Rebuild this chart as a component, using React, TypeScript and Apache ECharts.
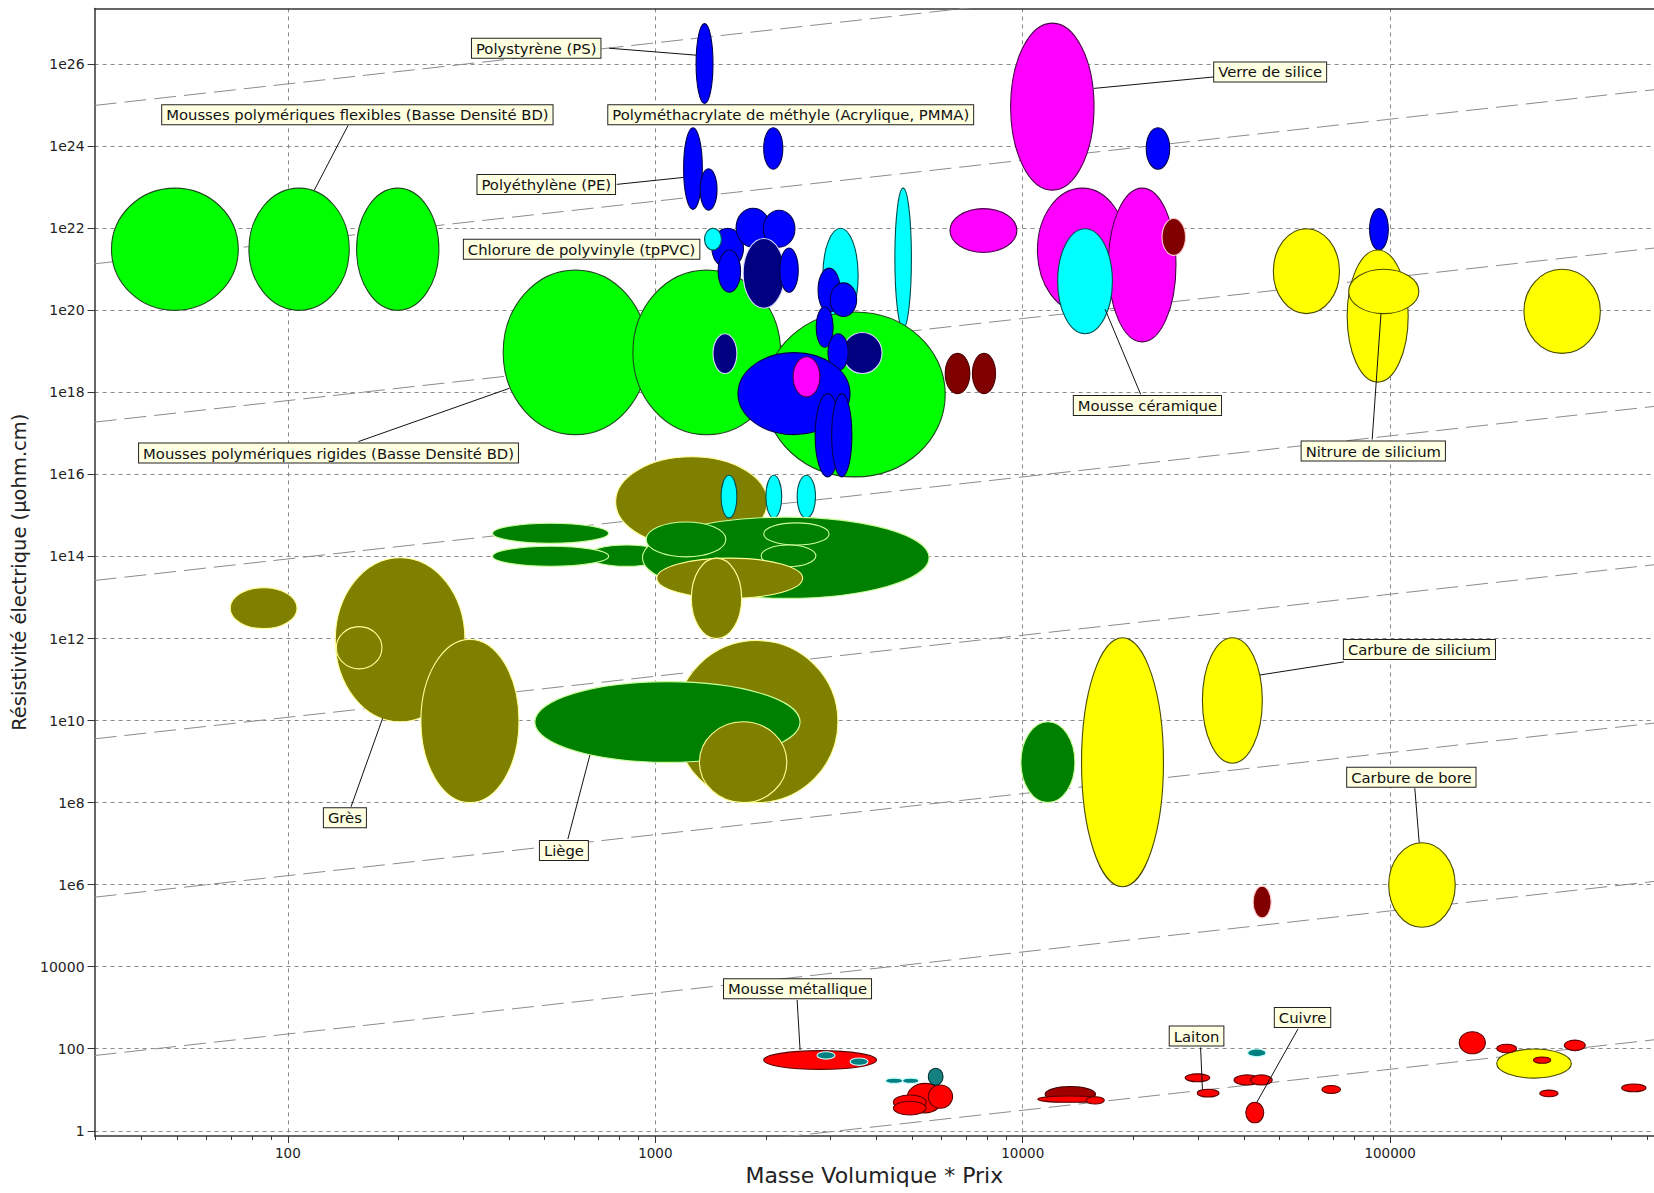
import React, { useEffect, useRef } from "react";
import * as echarts from "echarts";

// All positions are log10 exponents (the chart is a log-log Ashby map).
const X_MIN = 1.474;
const X_MAX = 5.718;
const Y_MIN = -0.127;
const Y_MAX = 27.36;

const xMajorTicks = [2, 3, 4, 5];
const xMinorMultipliers = [2, 3, 4, 5, 6, 7, 8, 9];
const xMinorDecades = [1, 2, 3, 4, 5];
const yTicks = [0, 2, 4, 6, 8, 10, 12, 14, 16, 18, 20, 22, 24, 26];

// Guide lines of slope 1: log10(y) = log10(x) + offset
const guideOffsets = [-3.5, 0.36, 4.22, 8.08, 11.94, 15.8, 19.66, 23.52];

type B = [number, number, number, number, string];
// [logX min, logX max, logY min, logY max, style]
const flexibleFoams: B[] = [
  [1.52, 1.865, 20.0, 22.98, "lime"],
  [1.894, 2.167, 20.0, 22.98, "lime"],
  [2.187, 2.411, 20.0, 22.98, "lime"],
];

const polymers: B[] = [
  [2.586, 2.979, 16.97, 20.98, "lime"],
  [2.939, 3.341, 16.97, 20.98, "lime"],
  [3.157, 3.222, 18.46, 19.43, "navy"],
  [3.652, 3.697, 19.56, 22.98, "cyan"],
  [3.456, 3.552, 19.69, 22.0, "cyan"],
  [3.298, 3.789, 15.94, 19.96, "lime"],
  [3.111, 3.157, 25.04, 26.99, "blue"],
  [3.295, 3.347, 23.44, 24.45, "blue"],
  [3.077, 3.128, 22.46, 24.45, "blue"],
  [3.122, 3.168, 22.44, 23.45, "blue"],
  [3.154, 3.24, 21.03, 22.0, "blue"],
  [3.134, 3.18, 21.47, 22.0, "cyan"],
  [3.171, 3.232, 20.44, 21.47, "blue"],
  [3.22, 3.312, 21.54, 22.49, "blue"],
  [3.294, 3.38, 21.54, 22.44, "blue"],
  [3.239, 3.352, 20.05, 21.75, "navy"],
  [3.339, 3.389, 20.44, 21.52, "blue"],
  [3.443, 3.503, 19.95, 21.03, "blue"],
  [3.476, 3.548, 19.85, 20.67, "blue"],
  [3.438, 3.484, 19.1, 20.08, "blue"],
  [3.51, 3.617, 18.46, 19.46, "navy"],
  [3.47, 3.525, 18.53, 19.43, "blue"],
  [3.225, 3.53, 16.97, 18.97, "blue"],
  [3.375, 3.448, 17.89, 18.87, "magenta"],
  [3.435, 3.503, 15.94, 17.97, "blue"],
  [3.48, 3.535, 15.94, 17.97, "blue"],
  [3.789, 3.856, 17.97, 18.95, "maroonDark"],
  [3.863, 3.926, 17.97, 18.95, "maroonDark"],
];

const ceramicsUpper: B[] = [
  [3.802, 3.984, 21.41, 22.48, "magenta"],
  [3.967, 4.194, 22.93, 27.0, "magenta"],
  [4.336, 4.4, 23.44, 24.45, "blue"],
  [4.04, 4.284, 19.95, 22.98, "magenta"],
  [4.233, 4.417, 19.23, 22.98, "magenta"],
  [4.379, 4.443, 21.34, 22.24, "maroon"],
  [4.095, 4.244, 19.43, 21.99, "cyan"],
  [4.682, 4.862, 19.92, 21.99, "yellow"],
  [4.944, 4.995, 21.47, 22.48, "blue"],
  [4.883, 5.049, 18.25, 21.47, "yellow"],
  [4.887, 5.078, 19.92, 21.0, "yellow"],
  [5.364, 5.572, 18.95, 21.0, "yellow"],
];

const middleCluster: B[] = [
  [2.892, 3.305, 14.24, 16.43, "olive"],
  [3.179, 3.222, 14.94, 15.98, "cyan"],
  [3.301, 3.344, 14.94, 15.98, "cyan"],
  [3.386, 3.436, 14.94, 15.98, "cyan"],
  [2.814, 3.029, 13.76, 14.28, "green"],
  [2.965, 3.745, 12.98, 14.96, "green"],
  [2.557, 2.873, 14.32, 14.81, "green"],
  [2.557, 2.873, 13.76, 14.25, "green"],
  [2.975, 3.192, 13.99, 14.84, "green"],
  [3.295, 3.473, 14.28, 14.82, "green"],
  [3.288, 3.437, 13.75, 14.28, "green"],
  [3.004, 3.401, 12.98, 13.96, "olive"],
  [3.098, 3.235, 12.0, 13.96, "olive"],
];

const lowerCluster: B[] = [
  [3.055, 3.497, 8.0, 11.95, "olive"],
  [2.672, 3.394, 8.98, 10.95, "green"],
  [3.12, 3.358, 8.0, 9.97, "olive"],
  [3.995, 4.142, 8.0, 9.97, "green"],
  [4.16, 4.383, 5.95, 12.02, "yellow"],
  [4.489, 4.652, 8.96, 12.02, "yellow"],
  [4.627, 4.676, 5.19, 5.96, "maroon"],
  [4.996, 5.177, 4.96, 7.02, "yellow"],
];

const leftStones: B[] = [
  [1.843, 2.025, 12.24, 13.24, "olive"],
  [2.129, 2.482, 9.97, 13.97, "olive"],
  [2.132, 2.256, 11.26, 12.29, "olive"],
  [2.362, 2.629, 8.0, 11.98, "olive"],
];

const metals: B[] = [
  [3.295, 3.602, 1.496, 1.954, "red"],
  [3.44, 3.489, 1.748, 1.928, "teal"],
  [3.53, 3.579, 1.594, 1.774, "teal"],
  [3.627, 3.673, 1.157, 1.285, "teal"],
  [3.673, 3.717, 1.157, 1.285, "teal"],
  [3.685, 3.783, 0.437, 1.157, "red"],
  [3.743, 3.809, 0.55, 1.116, "red"],
  [3.648, 3.737, 0.514, 0.874, "red"],
  [3.648, 3.737, 0.386, 0.72, "red"],
  [3.743, 3.783, 1.116, 1.524, "tealDark"],
  [4.061, 4.198, 0.707, 1.08, "darkred"],
  [4.041, 4.214, 0.694, 0.848, "red"],
  [4.172, 4.222, 0.653, 0.83, "red"],
  [4.442, 4.509, 1.195, 1.388, "red"],
  [4.475, 4.534, 0.823, 1.013, "red"],
  [4.612, 4.662, 1.805, 1.992, "teal"],
  [4.575, 4.646, 1.116, 1.362, "red"],
  [4.62, 4.679, 1.116, 1.362, "red"],
  [4.607, 4.656, 0.195, 0.694, "red"],
  [4.814, 4.865, 0.91, 1.105, "red"],
  [5.188, 5.259, 1.877, 2.416, "red"],
  [5.29, 5.493, 1.285, 1.992, "yellow"],
  [5.29, 5.344, 1.902, 2.108, "red"],
  [5.39, 5.437, 1.645, 1.8, "red"],
  [5.474, 5.531, 1.954, 2.211, "red"],
  [5.407, 5.457, 0.83, 0.992, "red"],
  [5.63, 5.696, 0.951, 1.141, "red"],
];

const labelTexts = [
  "Polystyrène (PS)",
  "Mousses polymériques flexibles (Basse Densité BD)",
  "Polyméthacrylate de méthyle (Acrylique, PMMA)",
  "Polyéthylène (PE)",
  "Chlorure de polyvinyle (tpPVC)",
  "Mousses polymériques rigides (Basse Densité BD)",
  "Verre de silice",
  "Mousse céramique",
  "Nitrure de silicium",
  "Carbure de silicium",
  "Carbure de bore",
  "Grès",
  "Liège",
  "Mousse métallique",
  "Laiton",
  "Cuivre",
];
// box left edge (logX), box vertical centre (logY)
const labelAnchors: [number, number][] = [
  [2.501, 26.39],
  [1.658, 24.77],
  [2.872, 24.77],
  [2.516, 23.07],
  [2.479, 21.49],
  [1.595, 16.52],
  [4.521, 25.81],
  [4.139, 17.68],
  [4.759, 16.57],
  [4.874, 11.73],
  [4.883, 8.62],
  [2.098, 7.63],
  [2.686, 6.83],
  [3.187, 3.46],
  [4.4, 2.31],
  [4.686, 2.76],
];
// leader line [fromX, fromY, toX, toY] or null
const leaders: ([number, number, number, number] | null)[] = [
  [2.874, 26.39, 3.111, 26.22],
  [2.164, 24.51, 2.072, 22.93],
  null,
  [2.895, 23.07, 3.077, 23.24],
  null,
  [2.192, 16.8, 2.603, 18.1],
  [4.521, 25.69, 4.194, 25.41],
  [4.321, 17.95, 4.224, 20.03],
  [4.951, 16.85, 4.975, 19.92],
  [4.874, 11.43, 4.645, 11.11],
  [5.067, 8.35, 5.079, 7.02],
  [2.172, 7.9, 2.258, 10.06],
  [2.762, 7.11, 2.822, 9.16],
  [3.386, 3.19, 3.394, 1.97],
  [4.484, 2.03, 4.489, 1.013],
  [4.749, 2.48, 4.637, 0.694],
];

const STYLES: Record<string, { fill: string; stroke: string }> = {
  lime: { fill: "#00ff00", stroke: "#1c4a1c" },
  blue: { fill: "#0000ff", stroke: "#000050" },
  navy: { fill: "#000080", stroke: "#dcdcff" },
  cyan: { fill: "#00ffff", stroke: "#004d4d" },
  magenta: { fill: "#ff00ff", stroke: "#4a004a" },
  maroon: { fill: "#800000", stroke: "#ffc8c8" },
  maroonDark: { fill: "#800000", stroke: "#4a0000" },
  yellow: { fill: "#ffff00", stroke: "#4a4a00" },
  olive: { fill: "#808000", stroke: "#ffff99" },
  green: { fill: "#008000", stroke: "#ccff99" },
  red: { fill: "#ff0000", stroke: "#5c0000" },
  darkred: { fill: "#a00000", stroke: "#3d0000" },
  teal: { fill: "#008080", stroke: "#c8ffff" },
  tealDark: { fill: "#148080", stroke: "#003030" },
};

const FONT = '"DejaVu Sans", Verdana, sans-serif';

export default function App() {
  const ref = useRef<HTMLDivElement>(null);
  useEffect(() => {
    document.body.style.margin = "0";
    document.body.style.overflow = "hidden";
    if (!ref.current) return;
    const chart = echarts.init(ref.current, undefined, { renderer: "svg" });

    const bubbles: B[] = [
      ...flexibleFoams,
      ...polymers,
      ...ceramicsUpper,
      ...middleCluster,
      ...lowerCluster,
      ...leftStones,
      ...metals,
    ];

    const xMinor: number[] = [];
    xMinorDecades.forEach((n) =>
      xMinorMultipliers.forEach((k) => {
        const v = n + Math.log10(k);
        if (v > X_MIN && v < X_MAX) xMinor.push(v);
      })
    );

    const fmtX = (v: number) => String(Math.round(Math.pow(10, v)));
    const fmtY = (v: number) => {
      const e = Math.round(v);
      return e <= 4 ? String(Math.round(Math.pow(10, e))) : "1e" + e;
    };

    const axisColor = "#333333";
    const gridLine = { show: true, lineStyle: { color: "#8a8a8a", type: [4, 4] as any, width: 1 } };

    const guideSeries = guideOffsets.map((c) => ({
      type: "line",
      silent: true,
      symbol: "none",
      clip: true,
      xAxisIndex: 0,
      yAxisIndex: 0,
      lineStyle: { color: "#8c8c8c", width: 1, type: [22, 8] as any },
      data: [
        [X_MIN, X_MIN + c],
        [X_MAX, X_MAX + c],
      ],
      z: 1,
    }));

    const option: any = {
      animation: false,
      backgroundColor: "#ffffff",
      grid: { left: 94.6, right: 0, top: 8.4, bottom: 57 },
      xAxis: [
        {
          type: "value",
          min: X_MIN,
          max: X_MAX,
          position: "bottom",
          name: "Masse Volumique * Prix",
          nameLocation: "middle",
          nameGap: 25,
          nameTextStyle: { fontSize: 22, color: "#222", fontFamily: FONT },
          axisLine: { show: true, onZero: false, lineStyle: { color: axisColor, width: 1.5 } },
          axisTick: { show: true, length: 7, customValues: xMajorTicks, lineStyle: { color: axisColor } },
          axisLabel: {
            customValues: xMajorTicks,
            formatter: fmtX,
            fontSize: 13.5,
            color: "#222",
            fontFamily: FONT,
            margin: 10,
          },
          splitLine: gridLine,
        },
        {
          type: "value",
          min: X_MIN,
          max: X_MAX,
          position: "bottom",
          axisLine: { show: false, onZero: false },
          axisTick: { show: true, length: 4, customValues: xMinor, lineStyle: { color: axisColor } },
          axisLabel: { show: false },
          splitLine: { show: false },
        },
        {
          type: "value",
          min: X_MIN,
          max: X_MAX,
          position: "top",
          axisLine: { show: true, onZero: false, lineStyle: { color: axisColor, width: 1.5 } },
          axisTick: { show: false },
          axisLabel: { show: false },
          splitLine: { show: false },
        },
      ],
      yAxis: [
        {
          type: "value",
          min: Y_MIN,
          max: Y_MAX,
          name: "Résistivité électrique (µohm.cm)",
          nameLocation: "middle",
          nameGap: 53,
          nameTextStyle: { fontSize: 19.5, color: "#222", fontFamily: FONT },
          axisLine: { show: true, onZero: false, lineStyle: { color: axisColor, width: 1.5 } },
          axisTick: { show: true, length: 7, customValues: yTicks, lineStyle: { color: axisColor } },
          axisLabel: {
            customValues: yTicks,
            formatter: fmtY,
            fontSize: 14,
            color: "#222",
            fontFamily: FONT,
            margin: 10,
          },
          splitLine: gridLine,
        },
      ],
      series: [
        ...guideSeries,
        {
          type: "custom",
          name: "materials",
          silent: true,
          clip: true,
          xAxisIndex: 0,
          yAxisIndex: 0,
          z: 3,
          encode: { x: [0, 1], y: [2, 3] },
          data: bubbles.map((b) => [b[0], b[1], b[2], b[3]]),
          renderItem: (params: any, api: any) => {
            const b = bubbles[params.dataIndex];
            const p1 = api.coord([api.value(0), api.value(2)]);
            const p2 = api.coord([api.value(1), api.value(3)]);
            const st = STYLES[b[4]];
            return {
              type: "ellipse",
              shape: {
                cx: (p1[0] + p2[0]) / 2,
                cy: (p1[1] + p2[1]) / 2,
                rx: Math.abs(p2[0] - p1[0]) / 2,
                ry: Math.abs(p2[1] - p1[1]) / 2,
              },
              style: { fill: st.fill, stroke: st.stroke, lineWidth: 1.1 },
            };
          },
        },
        {
          type: "custom",
          name: "labels",
          silent: true,
          clip: false,
          xAxisIndex: 0,
          yAxisIndex: 0,
          z: 5,
          encode: { x: 0, y: 1 },
          data: labelAnchors.map((a) => [a[0], a[1]]),
          renderItem: (params: any, api: any) => {
            const i = params.dataIndex;
            const p = api.coord([api.value(0), api.value(1)]);
            const children: any[] = [];
            const l = leaders[i];
            if (l) {
              const a = api.coord([l[0], l[1]]);
              const b = api.coord([l[2], l[3]]);
              children.push({
                type: "line",
                shape: { x1: a[0], y1: a[1], x2: b[0], y2: b[1] },
                style: { stroke: "#111", lineWidth: 1 },
              });
            }
            children.push({
              type: "text",
              x: p[0],
              y: p[1],
              style: {
                text: labelTexts[i],
                fill: "#111",
                fontSize: 14.8,
                fontFamily: FONT,
                align: "left",
                verticalAlign: "middle",
                backgroundColor: "#ffffe1",
                borderColor: "#222",
                borderWidth: 1,
                padding: [2, 4],
              },
            });
            return { type: "group", children };
          },
        },
      ],
    };

    chart.setOption(option);
    return () => chart.dispose();
  }, []);

  return <div ref={ref} style={{ width: 1654, height: 1193 }} />;
}
